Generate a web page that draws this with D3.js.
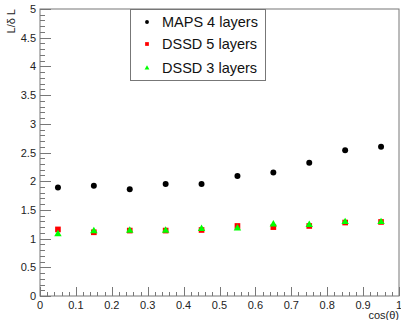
<!DOCTYPE html>
<html>
<head>
<meta charset="utf-8">
<script src="https://cdn.jsdelivr.net/npm/d3@7"></script>
<style>
  body { margin: 0; background: #fff; }
  text { font-family: "Liberation Sans", Arial, sans-serif; }
</style>
</head>
<body>
<div id="chart"></div>
<script>
// chart values
const cosTheta = [0.05, 0.15, 0.25, 0.35, 0.45, 0.55, 0.65, 0.75, 0.85, 0.95];
const maps4 = [1.89, 1.92, 1.86, 1.95, 1.95, 2.09, 2.15, 2.32, 2.54, 2.60];
const dssd5 = [1.16, 1.11, 1.14, 1.14, 1.15, 1.22, 1.20, 1.22, 1.28, 1.29];
const dssd3 = [1.08, 1.13, 1.14, 1.14, 1.17, 1.18, 1.25, 1.24, 1.29, 1.29];
const seriesNames = ["MAPS 4 layers", "DSSD 5 layers", "DSSD 3 layers"];
const xTicks = [0, 0.1, 0.2, 0.3, 0.4, 0.5, 0.6, 0.7, 0.8, 0.9, 1];
const yTicks = [0, 0.5, 1, 1.5, 2, 2.5, 3, 3.5, 4, 4.5, 5];

const width = 401;
const height = 320;
const frameColor = "#777";

const svg = d3.select("#chart")
    .append("svg")
    .attr("width", width)
    .attr("height", height);

const x = d3.scaleLinear().domain([0, 1]).range([40, 399]);
const y = d3.scaleLinear().domain([0, 5]).range([296, 9]);

// frame
svg.append("rect")
    .attr("x", x(0)).attr("y", y(5))
    .attr("width", x(1) - x(0)).attr("height", y(0) - y(5))
    .attr("fill", "none")
    .attr("stroke", frameColor);

// y axis ticks (minor every 0.1, major every 0.5)
const yMinor = d3.range(0, 5.0001, 0.1);
svg.append("g").selectAll("line")
    .data(yMinor)
    .join("line")
    .attr("x1", x(0))
    .attr("x2", d => x(0) + (Math.abs(d * 2 - Math.round(d * 2)) < 1e-6 ? 11 : 5))
    .attr("y1", d => Math.round(y(d)) + 0.5)
    .attr("y2", d => Math.round(y(d)) + 0.5)
    .attr("stroke", frameColor);

svg.append("g").selectAll("text")
    .data(yTicks)
    .join("text")
    .attr("x", 36)
    .attr("y", d => y(d) + 4)
    .attr("text-anchor", "end")
    .attr("font-size", "11px")
    .attr("fill", "#222")
    .text(d => d);

// x axis ticks (minor every 0.02, major every 0.1)
const xMinor = d3.range(0, 1.0001, 0.02);
svg.append("g").selectAll("line")
    .data(xMinor)
    .join("line")
    .attr("x1", d => Math.round(x(d)) + 0.5)
    .attr("x2", d => Math.round(x(d)) + 0.5)
    .attr("y1", y(0))
    .attr("y2", d => y(0) - (Math.abs(d * 10 - Math.round(d * 10)) < 1e-6 ? 9 : 4))
    .attr("stroke", frameColor);

svg.append("g").selectAll("text")
    .data(xTicks)
    .join("text")
    .attr("x", d => x(d))
    .attr("y", 309)
    .attr("text-anchor", "middle")
    .attr("font-size", "11px")
    .attr("fill", "#222")
    .text(d => d);

// axis titles
svg.append("text")
    .attr("transform", "translate(15,9) rotate(-90)")
    .attr("text-anchor", "end")
    .attr("font-size", "11px")
    .attr("fill", "#222")
    .text("L/δ L");

svg.append("text")
    .attr("x", 399)
    .attr("y", 319)
    .attr("text-anchor", "end")
    .attr("font-size", "11px")
    .attr("fill", "#222")
    .text("cos(θ)");

// markers
const circleSym = d3.symbol().type(d3.symbolCircle).size(28);
const squareSym = d3.symbol().type(d3.symbolSquare).size(32);
const triSym = d3.symbol().type(d3.symbolTriangle).size(24);

svg.append("g").selectAll("path")
    .data(cosTheta.map((c, i) => [c, dssd5[i]]))
    .join("path")
    .attr("d", squareSym)
    .attr("transform", d => `translate(${x(d[0])},${y(d[1])})`)
    .attr("fill", "#f00");

svg.append("g").selectAll("path")
    .data(cosTheta.map((c, i) => [c, dssd3[i]]))
    .join("path")
    .attr("d", triSym)
    .attr("transform", d => `translate(${x(d[0])},${y(d[1])})`)
    .attr("fill", "#0f0");

svg.append("g").selectAll("path")
    .data(cosTheta.map((c, i) => [c, maps4[i]]))
    .join("path")
    .attr("d", circleSym)
    .attr("transform", d => `translate(${x(d[0])},${y(d[1])})`)
    .attr("fill", "#000");

// legend
const legend = svg.append("g");
legend.append("rect")
    .attr("x", 130.5).attr("y", 9.5)
    .attr("width", 135).attr("height", 71)
    .attr("fill", "#fff")
    .attr("stroke", frameColor);

const legendSyms = [
    { sym: d3.symbol().type(d3.symbolCircle).size(12), color: "#000" },
    { sym: d3.symbol().type(d3.symbolSquare).size(14), color: "#f00" },
    { sym: d3.symbol().type(d3.symbolTriangle).size(10), color: "#0f0" }
];
const legendY = [22, 44, 68];

seriesNames.forEach((name, i) => {
    legend.append("path")
        .attr("d", legendSyms[i].sym)
        .attr("transform", `translate(147,${legendY[i]})`)
        .attr("fill", legendSyms[i].color);
    legend.append("text")
        .attr("x", 162)
        .attr("y", legendY[i] + 5)
        .attr("font-size", "14.5px")
        .attr("fill", "#111")
        .text(name);
});
</script>
</body>
</html>
